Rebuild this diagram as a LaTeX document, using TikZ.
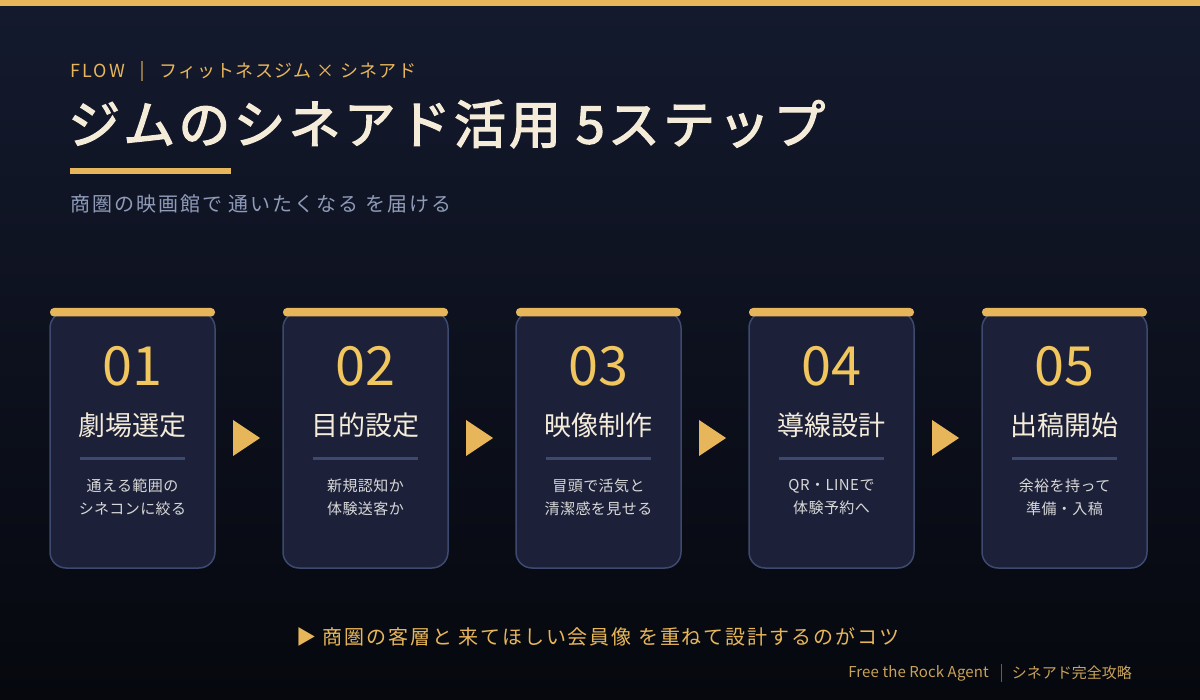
\documentclass[tikz,border=0pt]{standalone}
\usepackage{fontspec}
\setmainfont{Noto Sans CJK JP}
\definecolor{bgtop}{HTML}{141A2E}
\definecolor{bgbot}{HTML}{06080E}
\definecolor{gold}{HTML}{E8B65A}
\definecolor{golddim}{HTML}{C9A25A}
\definecolor{numgold}{HTML}{F2C65E}
\definecolor{cream}{HTML}{F4EBD9}
\definecolor{subgray}{HTML}{8F9BB9}
\definecolor{cardfill}{HTML}{1C2139}
\definecolor{cardline}{HTML}{3B4A6E}
\definecolor{desc}{HTML}{D8D8D8}
\tikzset{
  card/.style={draw=cardline, line width=1.5pt, fill=cardfill, rounded corners=16pt},
  topcap/.style={fill=gold, rounded corners=4pt},
  num/.style={text=numgold, font=\fontsize{54}{54}\selectfont, inner sep=0pt},
  ttl/.style={text=cream, font=\fontsize{27}{27}\selectfont, inner sep=0pt},
  dsc/.style={text=desc, font=\fontsize{15}{23}\selectfont\addfontfeature{LetterSpace=3}, align=center, inner sep=0pt},
  arr/.style={fill=gold},
}
\begin{document}
\begin{tikzpicture}[x=1pt,y=-1pt]
\useasboundingbox (0,0) rectangle (1200,700);
\shade[top color=bgtop, bottom color=bgbot] (0,0) rectangle (1200,700);
\fill[gold] (0,0) rectangle (1200,6);
% header
\node[anchor=west, inner sep=0pt, text=gold, font=\fontsize{18}{18}\selectfont\addfontfeature{LetterSpace=12}] (flow) at (70,71) {FLOW};
\draw[gold!55!bgtop, line width=1.2pt] (142,61) -- (142,81);
\node[anchor=west, inner sep=0pt, text=gold, font=\fontsize{18}{18}\selectfont\addfontfeature{LetterSpace=7}] (kicker) at (159,71) {フィットネスジム × シネアド};
\node[anchor=west, inner sep=0pt, text=cream, font=\fontsize{52}{52}\selectfont\addfontfeature{FakeBold=2.5, LetterSpace=6}] (title) at (68,124) {ジムのシネアド活用 5ステップ};
\fill[gold] (70,168) rectangle (231,174);
\node[anchor=west, inner sep=0pt, text=subgray, font=\fontsize{20}{20}\selectfont\addfontfeature{LetterSpace=10}] (sub) at (70,204) {商圏の映画館で 通いたくなる を届ける};
% cards
\foreach \i/\n/\t/\d in {0/01/劇場選定/{通える範囲の\\シネコンに絞る},1/02/目的設定/{新規認知か\\体験送客か},2/03/映像制作/{冒頭で活気と\\清潔感を見せる},3/04/導線設計/{QR・LINEで\\体験予約へ},4/05/出稿開始/{余裕を持って\\準備・入稿}}{
  \pgfmathsetmacro{\xl}{50+233*\i}
  \pgfmathsetmacro{\xc}{\xl+82.5}
  \draw[card] (\xl,312) rectangle ++(165,256);
  \fill[topcap] (\xl,308) rectangle ++(165,8.5);
  \node[num] (n\i) at (\xc,366) {\n};
  \node[ttl] (t\i) at (\xc,425) {\t};
  \fill[cardline] (\xl+30,457.5) rectangle ++(105,3);
  \node[dsc] (d\i) at (\xc,497) {\d};
}
\foreach \i in {0,1,2,3}{
  \pgfmathsetmacro{\ax}{233+233*\i}
  \fill[arr] (\ax,420) -- (\ax+27,438) -- (\ax,456) -- cycle;
}
% bottom
\node[anchor=west, inner sep=0pt, text=gold, font=\fontsize{20}{20}\selectfont\addfontfeature{LetterSpace=9.5}] (tip) at (296,637) {▶ 商圏の客層と 来てほしい会員像 を重ねて設計するのがコツ};
\node[anchor=east, inner sep=0pt, text=golddim, font=\fontsize{15}{15}\selectfont] (foot2) at (1132,673) {シネアド完全攻略};
\draw[golddim!55!bgbot, line width=1pt] (1001,664) -- (1001,682);
\node[anchor=east, inner sep=0pt, text=golddim, font=\fontsize{15}{15}\selectfont\addfontfeature{LetterSpace=1}] (foot1) at (989,673) {Free the Rock Agent};
\end{tikzpicture}
\end{document}
